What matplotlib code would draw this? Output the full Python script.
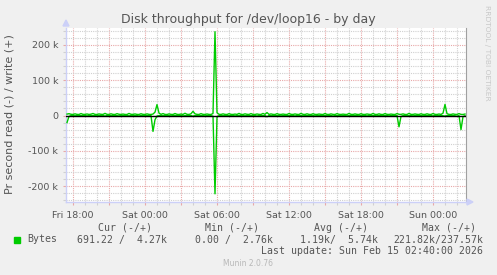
import datetime as dt
import matplotlib
matplotlib.use("Agg")
import matplotlib.pyplot as plt
import matplotlib.dates as mdates
from matplotlib.ticker import MultipleLocator, FuncFormatter

# 10 minute samples, Fri 13 Feb 2026 17:30 .. Sun 15 Feb 2026 02:40
start = dt.datetime(2026, 2, 13, 17, 30)
step = dt.timedelta(minutes=10)

# bytes written per second (k), plotted upwards
write_k = [
    4.1, 5.2, 3.6, 3.1, 4.8, 3.3, 3.0, 5.6, 3.4, 3.2, 4.4, 3.1, 3.9, 5.8, 3.3, 3.0, 4.6, 3.5, 3.2, 6.1,
    3.4, 3.1, 4.9, 3.3, 3.0, 5.3, 3.6, 3.2, 4.2, 3.1, 3.0, 5.9, 3.5, 3.3, 4.5, 3.2, 3.0, 5.1, 3.4, 3.1,
    4.7, 3.3, 3.0, 4.2, 9.5, 31.0, 6.8, 3.4, 5.5, 3.2, 3.0, 4.6, 3.3, 3.1, 5.7, 3.4, 3.0, 4.3, 3.2, 6.4,
    3.5, 3.1, 5.0, 12.0, 4.8, 3.3, 3.0, 5.4, 3.4, 3.1, 4.4, 3.2, 3.0, 5.8, 237.57, 7.9, 3.5, 3.1, 4.7, 3.3,
    3.0, 5.2, 3.4, 3.1, 4.1, 3.2, 6.0, 3.3, 3.0, 4.8, 3.5, 3.1, 5.5, 3.2, 3.0, 4.4, 3.3, 3.1, 5.9, 3.4,
    8.5, 3.2, 4.6, 3.3, 3.0, 5.3, 3.4, 3.1, 4.2, 3.2, 3.0, 5.7, 3.5, 3.1, 4.5, 3.3, 3.0, 6.2, 3.4, 3.1,
    4.9, 3.2, 3.0, 5.1, 3.3, 3.1, 4.3, 3.4, 3.0, 5.8, 3.2, 3.1, 4.7, 3.3, 3.0, 5.4, 3.5, 3.1, 4.0, 3.2,
    3.0, 6.0, 3.4, 3.1, 4.6, 3.3, 3.0, 5.2, 3.2, 3.1, 4.4, 3.4, 3.0, 5.9, 3.3, 3.1, 4.8, 3.2, 3.0, 5.5,
    3.4, 3.1, 4.2, 3.3, 3.0, 5.6, 3.5, 3.2, 4.7, 3.1, 3.0, 6.1, 3.3, 3.2, 4.5, 3.4, 3.0, 5.0, 3.2, 3.1,
    4.9, 3.3, 3.0, 5.7, 3.4, 3.1, 4.3, 3.2, 6.5, 31.5, 5.2, 3.3, 3.0, 4.6, 3.4, 3.1, 5.4, 3.2, 3.0, 4.27,
]

# bytes read per second (k), plotted downwards
read_k = [
    20.0, 2.5, 0.4, 0.2, 0.9, 0.1, 0.0, 0.6, 0.3, 0.0, 1.2, 0.2, 0.0, 0.5, 0.1, 0.8, 0.0, 0.3, 0.2, 1.5,
    0.1, 0.0, 0.7, 0.2, 0.0, 0.4, 1.1, 0.0, 0.3, 0.1, 0.0, 0.9, 0.2, 0.0, 0.5, 0.1, 1.3, 0.0, 0.2, 0.4,
    0.0, 0.6, 0.1, 45.0, 12.0, 1.5, 0.3, 0.0, 0.8, 0.2, 0.0, 0.4, 1.0, 0.1, 0.0, 0.6, 0.2, 0.0, 0.9, 0.3,
    0.0, 0.5, 0.1, 1.8, 0.2, 0.0, 0.7, 0.3, 0.0, 1.1, 0.1, 0.0, 0.5, 2.0, 221.82, 4.5, 0.3, 0.0, 0.8, 0.2,
    0.0, 0.6, 0.1, 0.0, 1.2, 0.3, 0.0, 0.4, 0.1, 0.9, 0.0, 0.2, 0.7, 0.0, 0.3, 1.4, 0.1, 0.0, 0.5, 0.2,
    3.5, 0.0, 0.8, 0.1, 0.0, 0.6, 0.2, 1.0, 0.0, 0.3, 0.1, 0.7, 0.0, 0.2, 1.3, 0.0, 0.4, 0.1, 0.9, 0.0,
    0.3, 0.6, 0.0, 0.2, 1.1, 0.1, 0.0, 0.5, 0.3, 0.0, 0.8, 0.2, 0.0, 1.4, 0.1, 0.4, 0.0, 0.7, 0.2, 0.0,
    1.0, 0.3, 0.0, 0.6, 0.1, 0.0, 0.9, 0.2, 0.4, 0.0, 1.2, 0.1, 0.0, 0.5, 0.3, 0.8, 0.0, 0.2, 0.6, 0.1,
    0.0, 1.1, 0.2, 0.0, 0.4, 0.1, 32.0, 2.5, 0.3, 0.0, 0.7, 0.2, 0.0, 1.0, 0.1, 0.5, 0.0, 0.3, 0.8, 0.2,
    0.0, 0.6, 0.1, 1.3, 0.0, 0.4, 0.2, 0.0, 0.9, 1.6, 0.3, 0.0, 0.5, 0.1, 0.7, 2.0, 0.2, 40.0, 3.0, 0.69122,
]

legend_headers = ["Cur (-/+)", "Min (-/+)", "Avg (-/+)", "Max (-/+)"]
legend_values = ["691.22 /  4.27k", "0.00 /  2.76k", "1.19k/  5.74k", "221.82k/237.57k"]
last_update = "Last update: Sun Feb 15 02:40:00 2026"

times = [start + i * step for i in range(len(write_k))]
t0 = start - dt.timedelta(minutes=5)
t1 = times[-1] + dt.timedelta(minutes=5)

W, H = 497, 275
BG = "#f0f0f0"
TXT = "#555555"
GREEN = "#00cc00"

fig = plt.figure(figsize=(W / 100, H / 100), dpi=100, facecolor=BG)
ax = fig.add_axes([66 / W, 1 - 202 / H, 400 / W, 174 / H])
ax.set_facecolor("white")

ax.plot(times, [v * 1000 for v in write_k], color=GREEN, lw=1.0, zorder=3)
ax.plot(times, [-v * 1000 for v in read_k], color=GREEN, lw=1.0, zorder=3)
ax.axhline(0, color="black", lw=1.0, zorder=4)

ax.set_xlim(t0, t1)
ax.set_ylim(-245000, 248000)

# grids
ax.xaxis.set_major_locator(mdates.HourLocator(byhour=range(0, 24, 3)))
ax.xaxis.set_minor_locator(mdates.HourLocator())
ax.xaxis.set_major_formatter(FuncFormatter(
    lambda x, p: mdates.num2date(x).strftime("%a %H:%M") if mdates.num2date(x).hour % 6 == 0 else ""))
ax.yaxis.set_major_locator(MultipleLocator(100000))
ax.yaxis.set_minor_locator(MultipleLocator(20000))
ax.yaxis.set_major_formatter(FuncFormatter(lambda y, p: "0" if y == 0 else "%d k" % round(y / 1000)))

ax.grid(which="minor", color="#d0d0d0", lw=0.8, ls=(0, (1, 1)), zorder=1)
ax.grid(which="major", color="#e8a8a8", lw=0.8, ls=(0, (1, 1)), zorder=2)
ax.set_axisbelow(True)

ax.tick_params(which="major", length=2.5, width=0.8, color="#e8a8a8", labelsize=6.8, labelcolor=TXT)
ax.tick_params(which="minor", length=2, width=0.8, color="#d0d0d0")
ax.tick_params(axis="x", which="major", pad=4)
ax.tick_params(axis="y", which="major", pad=3)

for side in ["top"]:
    ax.spines[side].set_visible(False)
ax.spines["right"].set_color("#a0a0a0")
ax.spines["left"].set_color("#ccd0f8")
ax.spines["bottom"].set_color("#ccd0f8")
ax.spines["left"].set_linewidth(1)
ax.spines["bottom"].set_linewidth(1)

# axis arrows
fig.patches.append(plt.Polygon([[63 / W, 1 - 26 / H], [69 / W, 1 - 26 / H], [66 / W, 1 - 20 / H]],
                               closed=True, transform=fig.transFigure, color="#ccd0f8"))
fig.patches.append(plt.Polygon([[467 / W, 1 - 199 / H], [467 / W, 1 - 205 / H], [473 / W, 1 - 202 / H]],
                               closed=True, transform=fig.transFigure, color="#ccd0f8"))

fig.text(248 / W, 1 - 19 / H, "Disk throughput for /dev/loop16 - by day", ha="center", va="center",
         fontsize=9, color=TXT)
fig.text(10 / W, 1 - 114 / H, "Pr second read (-) / write (+)", rotation=90, ha="center", va="center",
         fontsize=8, color=TXT)
fig.text(487 / W, 1 - 53 / H, "RRDTOOL / TOBI OETIKER", rotation=-90, ha="center", va="center",
         fontsize=5.4, color="#c8c8c8")

# legend
mono = "DejaVu Sans Mono"
fig.patches.append(plt.Rectangle((14 / W, 1 - 242.5 / H), 5.5 / W, 5.5 / H, transform=fig.transFigure,
                                 color=GREEN))
fig.text(27 / W, 1 - 239.5 / H, "Bytes", family=mono, fontsize=7.1, color=TXT, ha="left", va="center")
header_ends = [152, 259, 368, 476]
value_ends = [167, 273, 378, 483]
for h, x in zip(legend_headers, header_ends):
    fig.text(x / W, 1 - 228 / H, h, family=mono, fontsize=7.1, color=TXT, ha="right", va="center")
for v, x in zip(legend_values, value_ends):
    fig.text(x / W, 1 - 239.5 / H, v, family=mono, fontsize=7.1, color=TXT, ha="right", va="center")
fig.text(483 / W, 1 - 251 / H, last_update, family=mono, fontsize=7.1, color=TXT, ha="right", va="center")
fig.text(248 / W, 1 - 264 / H, "Munin 2.0.76", fontsize=5.5, color="#b8b8b8", ha="center", va="center")

fig.savefig("out.png", dpi=100, facecolor=BG)
